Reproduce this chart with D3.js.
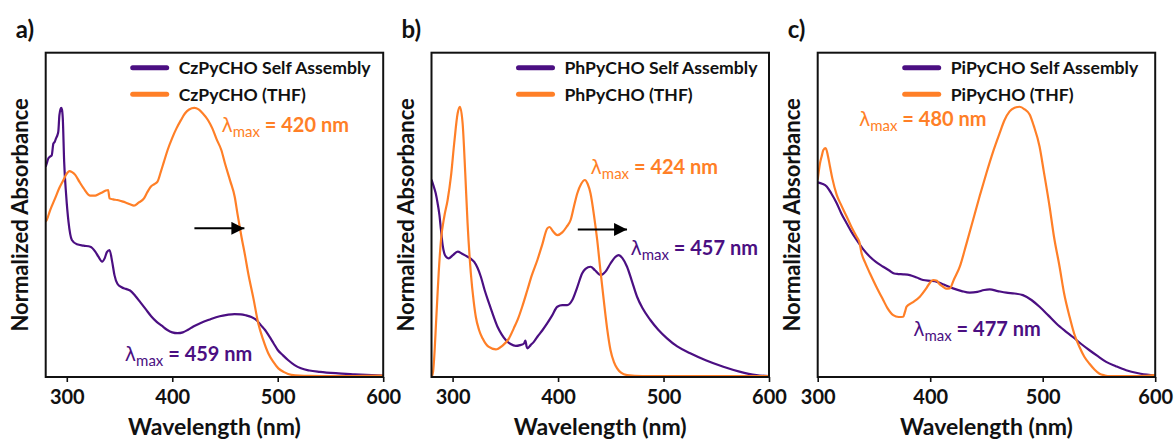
<!DOCTYPE html>
<html>
<head>
<meta charset="utf-8">
<script src="https://cdn.jsdelivr.net/npm/d3@7"></script>
<style>
  html, body { margin: 0; padding: 0; background: #fff; }
  svg { display: block; }
  text { font-family: Lato, "Open Sans", "DejaVu Sans", sans-serif; }
</style>
</head>
<body>
<svg id="fig" width="1174" height="441"></svg>
<script>
// ---- Absorption spectra: [wavelength (nm), normalized absorbance] ----
const czSelfAssembly = [[280,0.778],[281,0.79],[282.5,0.809],[284,0.815],[285.7,0.82],[287.3,0.864],[288.5,0.87],[289.8,0.883],[291.1,0.895],[292,0.91],[293,0.969],[294.6,0.996],[295.4,0.99],[296.2,0.957],[297.5,0.797],[299.4,0.673],[301.6,0.575],[304.8,0.507],[309.6,0.491],[316,0.486],[322.3,0.482],[327,0.464],[330,0.445],[333.5,0.427],[336,0.44],[338,0.462],[340.5,0.47],[343,0.427],[345.2,0.377],[348,0.345],[352,0.332],[356,0.326],[360,0.32],[365,0.30],[370,0.275],[375,0.25],[380,0.225],[385,0.205],[390,0.19],[395,0.175],[400,0.165],[405,0.162],[410,0.165],[415,0.175],[420,0.187],[427,0.2],[435,0.212],[445,0.225],[452,0.23],[459,0.233],[465,0.232],[470,0.228],[475,0.222],[480,0.21],[484,0.192],[488,0.174],[492,0.15],[496,0.125],[500,0.10],[505,0.08],[510,0.062],[516,0.044],[522,0.032],[530,0.024],[540,0.019],[555,0.014],[573,0.01],[600,0.005]];
const czTHF = [[280,0.575],[281,0.581],[284,0.615],[288.9,0.661],[293,0.7],[296.8,0.729],[299.5,0.75],[302.5,0.762],[305,0.758],[308,0.748],[312,0.722],[316,0.698],[322.3,0.671],[327,0.671],[330,0.676],[333.5,0.683],[337,0.69],[339.2,0.692],[340.5,0.661],[344,0.657],[347.8,0.655],[351.5,0.651],[355.7,0.646],[360,0.639],[363.7,0.634],[368,0.645],[373.2,0.661],[376.5,0.685],[379.6,0.704],[383,0.714],[386,0.723],[389.2,0.76],[392,0.795],[395.6,0.84],[400,0.885],[404,0.92],[408.3,0.951],[412,0.975],[416,0.99],[421,0.996],[425,0.99],[429,0.975],[433.8,0.951],[438,0.92],[442,0.88],[446.5,0.84],[450,0.79],[455,0.725],[459.2,0.667],[462,0.6],[465.6,0.519],[469,0.45],[472,0.384],[477,0.29],[481.5,0.199],[486,0.14],[491,0.088],[496,0.055],[500.6,0.032],[506,0.018],[513,0.008],[530,0.004],[554,0.003],[580,0.004],[600,0.005]];

const phSelfAssembly = [[280,0.73],[281.7,0.71],[284,0.68],[285.8,0.643],[287.5,0.6],[289,0.544],[290.5,0.49],[292.1,0.458],[294,0.444],[296.3,0.439],[300,0.45],[304.8,0.464],[309,0.456],[314.2,0.445],[317.5,0.437],[320.5,0.426],[323.5,0.405],[326.8,0.371],[330.5,0.32],[334.6,0.272],[338.5,0.228],[342.6,0.186],[346.5,0.158],[350.4,0.137],[355,0.122],[359.9,0.115],[364,0.118],[367.7,0.124],[369,0.135],[370.2,0.112],[371,0.106],[374,0.118],[377,0.13],[380.4,0.149],[385,0.172],[389.8,0.199],[394,0.225],[399.3,0.26],[404,0.266],[408.7,0.266],[413.5,0.285],[418,0.33],[422.9,0.384],[426,0.4],[430.8,0.408],[435,0.395],[440.2,0.377],[445,0.39],[449.7,0.42],[454,0.443],[457.5,0.451],[461,0.44],[465.4,0.408],[470,0.355],[474.9,0.297],[480,0.255],[487.5,0.211],[495,0.175],[503.3,0.143],[513,0.113],[525.3,0.088],[540,0.062],[556.7,0.038],[572,0.02],[588,0.007],[600,0.003]];
const phTHF = [[280,0.0],[281.5,0.02],[283,0.1],[284.3,0.2],[285.5,0.29],[286.8,0.384],[289,0.507],[292.1,0.593],[295.3,0.655],[298.4,0.741],[301.5,0.864],[304.8,0.976],[306.9,1.0],[309.5,0.939],[312,0.754],[314.2,0.569],[317.3,0.384],[320,0.28],[322,0.223],[325,0.175],[328.4,0.143],[334,0.112],[341,0.102],[347,0.115],[353.5,0.143],[358,0.18],[362,0.215],[366,0.26],[370.9,0.322],[375,0.375],[380.4,0.433],[385,0.49],[389.8,0.55],[392,0.555],[395,0.54],[399.3,0.525],[404,0.535],[408,0.555],[411.9,0.581],[415,0.63],[418.2,0.679],[422,0.715],[425.4,0.729],[428,0.715],[430.8,0.679],[434,0.6],[437.1,0.507],[440,0.4],[443.3,0.285],[446.5,0.18],[449.7,0.1],[453,0.055],[456,0.032],[460,0.015],[465.4,0.007],[480,0.003],[600,0.003]];

const piSelfAssembly = [[300,0.72],[304,0.715],[308,0.705],[312,0.68],[316.9,0.643],[321,0.605],[325.7,0.569],[330,0.537],[334.6,0.507],[340,0.475],[346.4,0.445],[352,0.425],[358.2,0.408],[364,0.393],[368,0.383],[371.5,0.381],[376,0.38],[381.9,0.377],[388,0.368],[393.7,0.359],[400,0.356],[405.6,0.353],[412,0.342],[420.3,0.328],[428,0.318],[435.1,0.312],[442,0.315],[448,0.322],[452.9,0.324],[460,0.318],[467.7,0.312],[475,0.309],[482.4,0.303],[490,0.285],[497.2,0.26],[505,0.228],[512.1,0.198],[520,0.17],[526.8,0.148],[534,0.123],[541.6,0.099],[549,0.077],[556.4,0.056],[565,0.04],[574.2,0.025],[585,0.014],[596,0.007],[600,0.005]];
const piTHF = [[300,0.73],[302,0.79],[303.5,0.816],[305,0.84],[307.1,0.847],[309,0.82],[310.9,0.779],[313,0.735],[316.9,0.674],[321,0.635],[325.7,0.594],[330,0.555],[334.6,0.519],[337,0.5],[339,0.458],[342,0.425],[346.4,0.384],[352,0.335],[358.2,0.285],[362,0.255],[367.1,0.229],[372,0.222],[376,0.223],[377.5,0.24],[379,0.26],[384,0.275],[390.8,0.297],[396,0.325],[400,0.35],[402.6,0.359],[406,0.356],[408,0.345],[411.4,0.334],[414,0.327],[417.4,0.328],[421,0.36],[426.3,0.408],[432,0.49],[438.1,0.581],[444,0.67],[450,0.755],[456,0.835],[461.8,0.903],[466,0.95],[470.6,0.983],[475,0.996],[479.5,1.0],[484,0.99],[488.4,0.971],[492,0.93],[497.2,0.853],[501,0.76],[506.1,0.631],[510,0.52],[515,0.408],[519,0.31],[523.9,0.223],[528,0.16],[532.7,0.111],[537,0.075],[541.6,0.049],[546,0.028],[550.5,0.012],[555,0.006],[559.3,0.003],[580,0.003],[590,0.004],[600,0.008]];

// ---- Labels ----
const panelLetters = ["a)", "b)", "c)"];
const compounds = ["CzPyCHO", "PhPyCHO", "PiPyCHO"];
const xTicks = [[300, 400, 500, 600], [300, 400, 500, 600], [300, 400, 500, 600]];
const xDomains = [[280, 600], [280, 600], [300, 600]];
const thfMax = [420, 424, 480];
const assemblyMax = [459, 457, 477];
// label anchors [wavelength, absorbance]
const thfLabelAt = [[446.6, 0.907], [430.8, 0.751], [336.7, 0.927]];
const assemblyLabelAt = [[355, 0.061], [468.6, 0.45], [384.9, 0.153]];
// red-shift arrows [from nm, to nm, absorbance]; panel c has none
const shiftArrows = [[421, 468.4, 0.55], [418.7, 465.4, 0.546], null];

const PURPLE = "#4b0f82";
const ORANGE = "#ff7f27";

const seriesSets = [
  [czSelfAssembly, czTHF],
  [phSelfAssembly, phTHF],
  [piSelfAssembly, piTHF]
];

// ---- Layout ----
const plotLefts = [45.7, 431.5, 817.7];
const plotWidth = 337.5;
const plotTop = 52.7;
const plotHeight = 324.3;

const svg = d3.select("#fig");
const defs = svg.append("defs");
defs.append("marker")
  .attr("id", "arrowhead")
  .attr("viewBox", "0 0 10 10")
  .attr("refX", 10).attr("refY", 5)
  .attr("markerUnits", "userSpaceOnUse")
  .attr("markerWidth", 13).attr("markerHeight", 13)
  .attr("orient", "auto")
  .append("path").attr("d", "M0,0 L10,5 L0,10 Z").attr("fill", "#000");

panelLetters.forEach((letter, i) => {
  const left = plotLefts[i];
  const g = svg.append("g").attr("transform", `translate(${left},${plotTop})`);

  const x = d3.scaleLinear().domain(xDomains[i]).range([0, plotWidth]);
  const y = d3.scaleLinear().domain([0, 1.2]).range([plotHeight, 0]);

  defs.append("clipPath").attr("id", "clip" + i)
    .append("rect").attr("width", plotWidth).attr("height", plotHeight);

  const line = d3.line()
    .x(d => x(d[0])).y(d => y(d[1]))
    .curve(d3.curveMonotoneX);

  const [assembly, thf] = seriesSets[i];
  const lines = g.append("g").attr("clip-path", `url(#clip${i})`);
  lines.append("path").datum(assembly)
    .attr("d", line).attr("fill", "none")
    .attr("stroke", PURPLE).attr("stroke-width", 2.2);
  lines.append("path").datum(thf)
    .attr("d", line).attr("fill", "none")
    .attr("stroke", ORANGE).attr("stroke-width", 2.2);

  // frame
  g.append("rect").attr("width", plotWidth).attr("height", plotHeight)
    .attr("fill", "none").attr("stroke", "#111").attr("stroke-width", 2);

  // x axis
  const xAxis = d3.axisBottom(x).tickValues(xTicks[i]).tickSize(5).tickPadding(8)
    .tickFormat(d3.format("d"));
  const ax = g.append("g").attr("transform", `translate(0,${plotHeight})`).call(xAxis);
  ax.select(".domain").remove();
  ax.selectAll(".tick line").attr("stroke", "#111").attr("stroke-width", 1.6);
  ax.selectAll(".tick text")
    .attr("fill", "#111")
    .style("font-family", "Lato, sans-serif")
    .style("font-weight", "700").style("font-size", "20px");

  // axis titles
  g.append("text")
    .attr("x", plotWidth / 2).attr("y", 382.5)
    .attr("text-anchor", "middle")
    .attr("fill", "#111")
    .style("font-weight", "700").style("font-size", "23px")
    .text("Wavelength (nm)");
  g.append("text")
    .attr("transform", `translate(-18,${plotHeight / 2}) rotate(-90)`)
    .attr("text-anchor", "middle")
    .attr("fill", "#111")
    .style("font-weight", "700").style("font-size", "22px")
    .text("Normalized Absorbance");

  // panel letter
  svg.append("text")
    .attr("x", left - 30).attr("y", 38)
    .attr("fill", "#111")
    .style("font-weight", "700").style("font-size", "24px")
    .text(letter);

  // legend
  const legendItems = [
    [compounds[i] + " Self Assembly", PURPLE],
    [compounds[i] + " (THF)", ORANGE]
  ];
  legendItems.forEach(([label, color], k) => {
    const ly = 15 + k * 26.6;
    g.append("line")
      .attr("x1", 87).attr("x2", 121).attr("y1", ly).attr("y2", ly)
      .attr("stroke", color).attr("stroke-width", 5).attr("stroke-linecap", "round");
    g.append("text")
      .attr("x", 133).attr("y", ly + 6.5)
      .attr("fill", "#111")
      .style("font-weight", "700").style("font-size", "17.6px")
      .text(label);
  });

  // λmax labels
  function lambdaLabel(at, value, color) {
    const t = g.append("text")
      .attr("x", x(at[0])).attr("y", y(at[1]))
      .attr("fill", color);
    t.append("tspan")
      .style("font-family", "'DejaVu Sans', sans-serif")
      .style("font-weight", "400").style("font-size", "19px")
      .text("λ");
    t.append("tspan")
      .attr("dy", 5)
      .style("font-weight", "400").style("font-size", "15px")
      .text("max");
    t.append("tspan")
      .attr("dy", -5)
      .style("font-weight", "700").style("font-size", "20px")
      .text(` = ${value} nm`);
  }
  lambdaLabel(thfLabelAt[i], thfMax[i], ORANGE);
  lambdaLabel(assemblyLabelAt[i], assemblyMax[i], PURPLE);

  // red-shift arrow
  const arr = shiftArrows[i];
  if (arr) {
    g.append("line")
      .attr("x1", x(arr[0])).attr("x2", x(arr[1]))
      .attr("y1", y(arr[2])).attr("y2", y(arr[2]))
      .attr("stroke", "#000").attr("stroke-width", 2)
      .attr("marker-end", "url(#arrowhead)");
  }
});
</script>
</body>
</html>
